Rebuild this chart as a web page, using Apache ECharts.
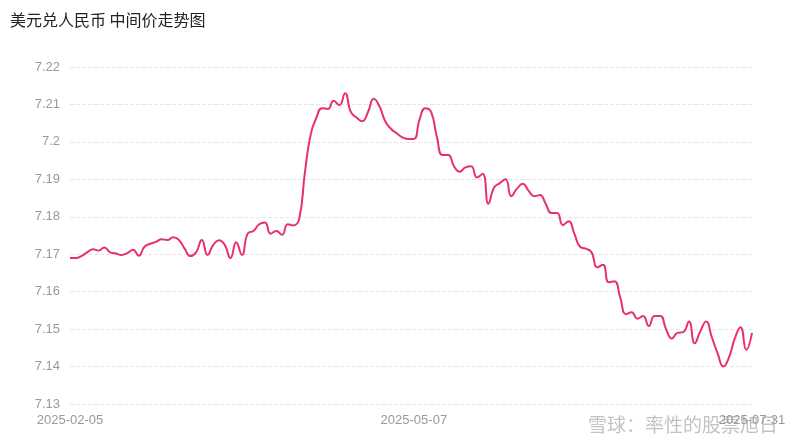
<!DOCTYPE html>
<html><head><meta charset="utf-8">
<script src="https://cdn.jsdelivr.net/npm/echarts@6/dist/echarts.min.js"></script>
<style>html,body{margin:0;padding:0;background:#fff}#c{width:800px;height:446px}</style>
</head><body><div id="c"></div>
<script>
const values = [7.169,7.169,7.1695,7.1705,7.1713,7.171,7.1718,7.1705,7.1702,7.1698,
7.1703,7.1712,7.1696,7.172,7.1728,7.1733,7.174,7.1738,7.1745,7.1738,
7.1715,7.1695,7.1705,7.1738,7.1698,7.1725,7.1737,7.1725,7.169,7.1732,
7.1698,7.1755,7.1762,7.178,7.1785,7.1755,7.1762,7.1752,7.178,7.1777,
7.1795,7.192,7.202,7.2065,7.209,7.2088,7.211,7.2098,7.213,7.208,
7.2065,7.2055,7.208,7.2115,7.2095,7.2055,7.2035,7.2023,7.2012,7.2008,
7.2008,7.206,7.209,7.208,7.2015,7.1965,7.1965,7.1935,7.192,7.1932,
7.1935,7.1905,7.1915,7.1835,7.1878,7.189,7.19,7.1855,7.1875,7.1888,
7.187,7.1855,7.1858,7.1835,7.181,7.181,7.1778,7.1788,7.1755,7.172,
7.1715,7.1705,7.1665,7.1672,7.1625,7.1628,7.1585,7.154,7.1545,7.1528,
7.1535,7.1508,7.1535,7.1535,7.15,7.1475,7.149,7.1492,7.152,7.1462,
7.1495,7.152,7.1478,7.1435,7.140,7.1425,7.1475,7.1505,7.1445,7.149];
const tickLabels = {0:'2025-02-05', 60:'2025-05-07', 119:'2025-07-31'};
const categories = values.map((v,i)=>String(i));
const chart = echarts.init(document.getElementById('c'));
chart.setOption({
  animation:false,
  title:{text:'美元兑人民币 中间价走势图',left:5,top:7,textStyle:{fontSize:16,fontWeight:'normal',color:'#222',fontFamily:'Noto Sans CJK SC'}},
  graphic:[{type:'text',right:22,bottom:12,style:{text:'雪球：率性的股票旭日',fontSize:19,fill:'rgba(120,120,120,0.45)',fontFamily:'Noto Sans CJK SC'}}],
  grid:{left:70,right:48,top:67,bottom:42},
  xAxis:{type:'category',data:categories,boundaryGap:false,
    axisLine:{show:false},axisTick:{show:false},splitLine:{show:false},
    axisLabel:{interval:0,color:'#999',fontSize:13,margin:10,formatter:(v,i)=>tickLabels[i]||''}},
  yAxis:{type:'value',min:7.13,max:7.22,interval:0.01,
    axisLine:{show:false},axisTick:{show:false},
    axisLabel:{color:'#999',fontSize:13,margin:10,formatter:v=>String(+v.toFixed(2))},
    splitLine:{lineStyle:{type:'dashed',color:'#e6e6e6'}}},
  series:[{type:'line',data:values,smooth:true,showSymbol:false,
    lineStyle:{color:'#e8306c',width:2},itemStyle:{color:'#e8306c'}}]
});
</script></body></html>
